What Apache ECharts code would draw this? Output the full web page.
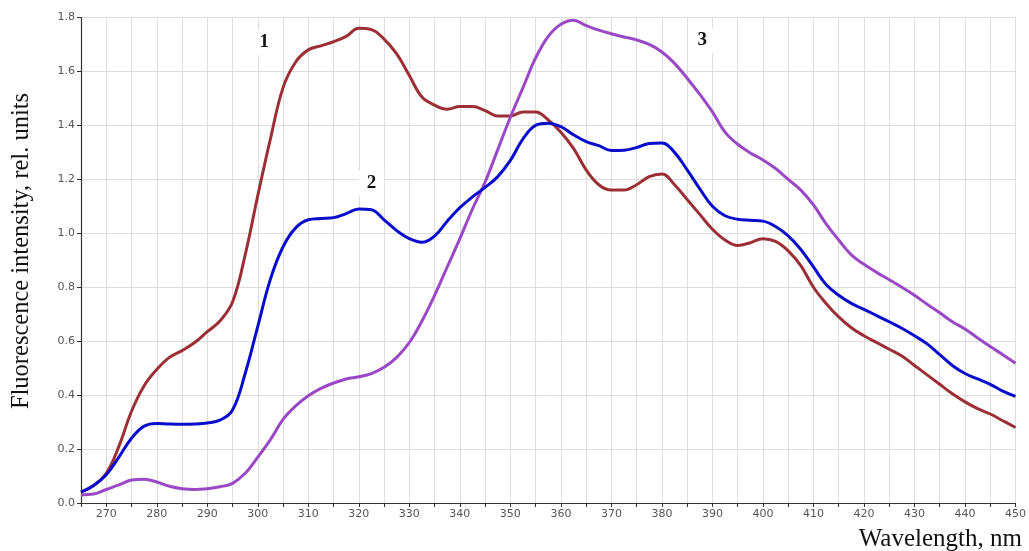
<!DOCTYPE html>
<html>
<head>
<meta charset="utf-8">
<script src="https://cdn.jsdelivr.net/npm/echarts@6/dist/echarts.min.js"></script>
<style>
  html, body { margin: 0; padding: 0; background: #fff; }
  #chart { width: 1029px; height: 551px; }
</style>
</head>
<body>
<div id="chart"></div>
<script>
// Wavelength grid, nm (step 2.5)
const wavelengths = [];
for (let w = 265; w <= 450; w += 2.5) wavelengths.push(w);

// Spectrum 1
const curve1 = [0.04, 0.065, 0.11, 0.21, 0.34, 0.435, 0.495, 0.54, 0.565, 0.595,
  0.635, 0.675, 0.745, 0.92, 1.14, 1.35, 1.54, 1.635, 1.68, 1.695,
  1.71, 1.73, 1.76, 1.755, 1.72, 1.665, 1.585, 1.505, 1.475, 1.46,
  1.47, 1.47, 1.455, 1.435, 1.435, 1.45, 1.45, 1.42, 1.375, 1.315,
  1.235, 1.18, 1.16, 1.16, 1.18, 1.21, 1.22, 1.18, 1.125, 1.07,
  1.015, 0.975, 0.955, 0.965, 0.98, 0.97, 0.935, 0.88, 0.80, 0.74,
  0.69, 0.65, 0.62, 0.595, 0.57, 0.545, 0.51, 0.475, 0.44, 0.405,
  0.375, 0.35, 0.33, 0.305, 0.28];

// Spectrum 2
const curve2 = [0.04, 0.065, 0.105, 0.17, 0.24, 0.285, 0.295, 0.293, 0.292, 0.293,
  0.297, 0.307, 0.345, 0.48, 0.655, 0.83, 0.95, 1.02, 1.05, 1.055,
  1.058, 1.073, 1.09, 1.087, 1.05, 1.01, 0.98, 0.967, 0.99, 1.045,
  1.095, 1.135, 1.17, 1.21, 1.27, 1.35, 1.40, 1.408, 1.395, 1.365,
  1.34, 1.325, 1.307, 1.308, 1.318, 1.333, 1.335, 1.30, 1.235, 1.165,
  1.10, 1.065, 1.052, 1.048, 1.045, 1.025, 0.99, 0.94, 0.875, 0.81,
  0.77, 0.74, 0.718, 0.695, 0.672, 0.648, 0.62, 0.59, 0.55, 0.51,
  0.48, 0.46, 0.44, 0.415, 0.395];

// Spectrum 3
const curve3 = [0.03, 0.033, 0.05, 0.067, 0.085, 0.088, 0.078, 0.062, 0.053, 0.05,
  0.053, 0.06, 0.073, 0.11, 0.17, 0.235, 0.31, 0.36, 0.398, 0.425,
  0.445, 0.46, 0.468, 0.48, 0.503, 0.54, 0.595, 0.675, 0.77, 0.875,
  0.98, 1.09, 1.19, 1.31, 1.43, 1.54, 1.65, 1.73, 1.775, 1.79,
  1.77, 1.753, 1.74, 1.728, 1.717, 1.70, 1.672, 1.63, 1.575, 1.515,
  1.45, 1.375, 1.33, 1.298, 1.272, 1.24, 1.20, 1.16, 1.105, 1.035,
  0.975, 0.92, 0.885, 0.855, 0.828, 0.80, 0.77, 0.737, 0.705, 0.672,
  0.645, 0.612, 0.58, 0.55, 0.518];

// Curve numbers and their anchor points [wavelength, intensity]
const curveNames = ['1', '2', '3'];
const curveLabelAt = [[301.3, 1.707], [322.5, 1.185], [388, 1.715]];

const colors = ['#9b2f35', '#0a0ccc', '#9a48c6'];
const seriesData = [curve1, curve2, curve3];

const chart = echarts.init(document.getElementById('chart'), null, { renderer: 'canvas' });

const tickFont = '"DejaVu Sans", Verdana, sans-serif';

const option = {
  animation: false,
  backgroundColor: '#ffffff',
  grid: { left: 81, right: 13, top: 17.5, bottom: 48, containLabel: false },
  xAxis: {
    type: 'value',
    min: 265, max: 450, interval: 5,
    axisLine: { show: true, lineStyle: { color: '#333', width: 1.2 } },
    axisTick: { show: true, length: 4, lineStyle: { color: '#333' } },
    axisLabel: {
      color: '#555', fontSize: 11, fontFamily: tickFont, margin: 6,
      formatter: v => (v % 10 === 0 ? String(v) : '')
    },
    splitLine: { show: true, lineStyle: { color: '#dcdcdc', width: 1 } }
  },
  yAxis: {
    type: 'value',
    min: 0, max: 1.8, interval: 0.2,
    axisLine: { show: true, lineStyle: { color: '#333', width: 1.2 } },
    axisTick: { show: true, length: 4, lineStyle: { color: '#333' } },
    axisLabel: {
      color: '#555', fontSize: 11, fontFamily: tickFont, margin: 6,
      formatter: v => v.toFixed(1)
    },
    splitLine: { show: true, lineStyle: { color: '#dcdcdc', width: 1 } }
  },
  series: seriesData.map((d, i) => ({
    type: 'line',
    name: curveNames[i],
    data: wavelengths.map((w, k) => [w, d[k]]),
    smooth: 0.4,
    showSymbol: false,
    lineStyle: { color: colors[i], width: 3 },
    z: 3 + (i === 1 ? 1 : 0)
  })),
  graphic: [
    {
      type: 'text', x: 22, y: 251, rotation: Math.PI / 2,
      style: {
        text: 'Fluorescence intensity, rel. units',
        font: '24.5px "Liberation Serif", "Times New Roman", serif',
        fill: '#111', align: 'center', verticalAlign: 'middle'
      }
    },
    {
      type: 'text', x: 1022, y: 539,
      style: {
        text: 'Wavelength, nm',
        font: '25px "Liberation Serif", "Times New Roman", serif',
        fill: '#111', align: 'right', verticalAlign: 'middle'
      }
    }
  ]
};

chart.setOption(option);

// Curve numbers placed at data coordinates
const labelGraphics = curveLabelAt.map((p, i) => {
  const px = chart.convertToPixel({ gridIndex: 0 }, p);
  return {
    type: 'text', x: px[0], y: px[1], z: 10,
    style: {
      text: curveNames[i],
      font: 'bold 19px "Liberation Serif", "Times New Roman", serif',
      fill: '#111', align: 'center', verticalAlign: 'middle',
      backgroundColor: '#fff', padding: [3, 8]
    }
  };
});
chart.setOption({ graphic: option.graphic.concat(labelGraphics) });
</script>
</body>
</html>
